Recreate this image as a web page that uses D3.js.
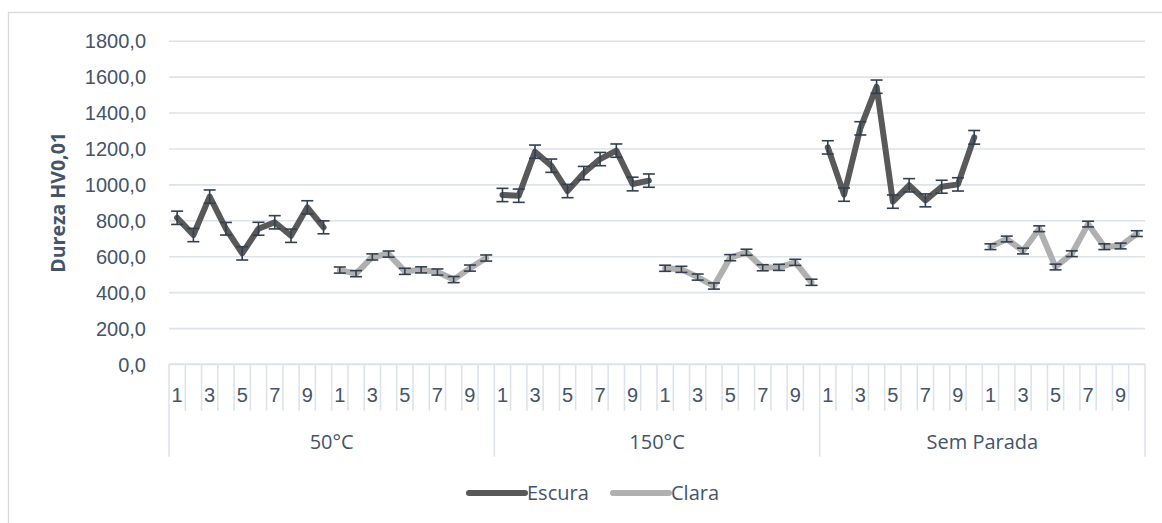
<!DOCTYPE html>
<html>
<head>
<meta charset="utf-8">
<script src="https://cdn.jsdelivr.net/npm/d3@7/dist/d3.min.js"></script>
<style>
  html, body { margin: 0; padding: 0; background: #fff; }
  svg { display: block; font-family: "Open Sans", "Noto Sans", sans-serif; }
</style>
</head>
<body>
<svg id="chart" width="1162" height="523"></svg>
<script>
// Sample groups and the ten measurement positions in each region
const groups = ["50°C", "150°C", "Sem Parada"];
const positions = ["1", "2", "3", "4", "5", "6", "7", "8", "9", "10"];
const seriesNames = ["Escura", "Clara"];

// Hardness (HV0,01) per group, dark region
const escura50 = [814, 718, 932, 753, 616, 753, 789, 714, 872, 761];
const escura150 = [941, 937, 1182, 1104, 963, 1063, 1141, 1188, 1002, 1021];
const escuraSP = [1206, 943, 1312, 1544, 904, 995, 911, 987, 1000, 1262];

// Hardness per group, light region
const clara50 = [523, 503, 596, 612, 516, 524, 512, 470, 534, 590];
const clara150 = [533, 527, 484, 434, 592, 622, 536, 538, 566, 455];
const claraSP = [653, 696, 629, 753, 540, 614, 779, 653, 657, 726];

// Standard deviations
const escuraErr50 = [37, 37, 37, 35, 37, 36, 37, 37, 37, 36];
const escuraErr150 = [37, 37, 37, 37, 37, 37, 37, 37, 38, 37];
const escuraErrSP = [37, 37, 37, 37, 37, 37, 36, 36, 37, 38];
const claraErr50 = [17, 17, 17, 17, 17, 17, 17, 17, 17, 17];
const claraErr150 = [17, 17, 17, 17, 17, 17, 17, 17, 17, 17];
const claraErrSP = [16, 16, 16, 16, 16, 16, 16, 16, 16, 16];

const yTicks = [0, 200, 400, 600, 800, 1000, 1200, 1400, 1600, 1800];
const yTitle = "Dureza HV0,01";

// Flatten into one category axis: each group holds 10 Escura then 10 Clara positions
const escuraByGroup = [escura50, escura150, escuraSP];
const claraByGroup = [clara50, clara150, claraSP];
const escuraErrByGroup = [escuraErr50, escuraErr150, escuraErrSP];
const claraErrByGroup = [claraErr50, claraErr150, claraErrSP];

const cats = [];
groups.forEach((g, gi) => {
  ["Escura", "Clara"].forEach((s, si) => {
    positions.forEach((p, pi) => {
      const vals = si === 0 ? escuraByGroup[gi] : claraByGroup[gi];
      const errs = si === 0 ? escuraErrByGroup[gi] : claraErrByGroup[gi];
      cats.push({ idx: cats.length, group: gi, series: s, label: p, pi, value: vals[pi], err: errs[pi] });
    });
  });
});

const svg = d3.select("#chart");
const W = 1162, H = 523;
const plot = { left: 169, right: 1145, top: 40.7, bottom: 364 };

const textColor = "#44546A";
const gridColor = "#DEE3EA";
const colors = { Escura: "#595959", Clara: "#B0B0B0" };
const errColor = "#323F51";

// Chart frame
svg.append("rect")
  .attr("x", 8.5).attr("y", 12.5)
  .attr("width", W + 20).attr("height", H + 20)
  .attr("fill", "#fff").attr("stroke", "#D9D9D9").attr("stroke-width", 1.3);

const x = d3.scaleBand().domain(cats.map(d => d.idx)).range([plot.left, plot.right]).padding(0);
const y = d3.scaleLinear().domain([0, 1800]).range([plot.bottom, plot.top]);

const ptBR = d3.formatLocale({ decimal: ",", thousands: "", grouping: [3], currency: ["R$", ""] });
const fmt = ptBR.format(".1f");

// Y axis with gridlines
const yAxis = svg.append("g")
  .attr("transform", `translate(${plot.left},0)`)
  .call(d3.axisLeft(y).tickValues(yTicks).tickFormat(fmt)
    .tickSizeInner(-(plot.right - plot.left)).tickSizeOuter(0).tickPadding(23));
yAxis.select(".domain").remove();
yAxis.selectAll(".tick line").attr("stroke", gridColor).attr("stroke-width", 1.6);
yAxis.selectAll(".tick text")
  .attr("fill", textColor).attr("font-size", 20).attr("dy", "0.36em");

// Y title
svg.append("text")
  .attr("transform", `translate(58,${(plot.top + plot.bottom) / 2}) rotate(-90)`)
  .attr("text-anchor", "middle").attr("dy", "0.36em")
  .attr("fill", textColor).attr("font-size", 19.5).attr("font-weight", "bold")
  .text(yTitle);

// X axis: category boundary ticks, position labels, group separators
const xg = svg.append("g").attr("transform", `translate(0,${plot.bottom})`);
xg.append("line")
  .attr("x1", plot.left).attr("x2", plot.right)
  .attr("stroke", gridColor).attr("stroke-width", 1.6);

const boundaries = d3.range(cats.length + 1);
xg.selectAll("line.cat-tick")
  .data(boundaries)
  .join("line")
  .attr("class", "cat-tick")
  .attr("x1", i => x(0) + i * x.step()).attr("x2", i => x(0) + i * x.step())
  .attr("y1", 0)
  .attr("y2", i => (i % 20 === 0 ? 92.7 : 46.7))
  .attr("stroke", gridColor).attr("stroke-width", 1.6);

const labelAxis = xg.append("g")
  .call(d3.axisBottom(x)
    .tickValues(cats.filter(d => d.pi % 2 === 0).map(d => d.idx))
    .tickFormat(i => cats[i].label).tickSize(0));
labelAxis.select(".domain").remove();
labelAxis.selectAll(".tick text")
  .attr("y", 31).attr("dy", "0.36em")
  .attr("fill", textColor).attr("font-size", 20);

xg.selectAll("text.group")
  .data(groups)
  .join("text")
  .attr("class", "group")
  .attr("x", (g, gi) => x(gi * 20) + x.step() * 10)
  .attr("y", 77.7).attr("dy", "0.36em")
  .attr("text-anchor", "middle")
  .attr("fill", textColor).attr("font-size", 20)
  .text(g => g);

// Series lines
const line = d3.line()
  .defined(d => d.value != null)
  .x(d => x(d.idx) + x.bandwidth() / 2)
  .y(d => y(d.value));

seriesNames.forEach(s => {
  const pts = cats.map(d => (d.series === s ? d : { ...d, value: null }));
  svg.append("path")
    .datum(pts)
    .attr("fill", "none")
    .attr("stroke", colors[s])
    .attr("stroke-width", 6)
    .attr("stroke-linejoin", "round")
    .attr("stroke-linecap", "round")
    .attr("d", line);
});

// Error bars
const capHalf = 6;
const eb = svg.append("g").attr("stroke", errColor).attr("stroke-width", 1.6);
cats.forEach(d => {
  const cx = x(d.idx) + x.bandwidth() / 2;
  eb.append("line").attr("x1", cx).attr("x2", cx).attr("y1", y(d.value - d.err)).attr("y2", y(d.value + d.err));
  eb.append("line").attr("x1", cx - capHalf).attr("x2", cx + capHalf).attr("y1", y(d.value + d.err)).attr("y2", y(d.value + d.err));
  eb.append("line").attr("x1", cx - capHalf).attr("x2", cx + capHalf).attr("y1", y(d.value - d.err)).attr("y2", y(d.value - d.err));
});

// Legend
const legend = svg.append("g").attr("transform", "translate(0,493)");
const legendX = [469, 613];
seriesNames.forEach((s, i) => {
  const g = legend.append("g").attr("transform", `translate(${legendX[i]},0)`);
  g.append("line").attr("x1", 0).attr("x2", 56)
    .attr("stroke", colors[s]).attr("stroke-width", 6).attr("stroke-linecap", "round");
  g.append("text").attr("x", 58).attr("dy", "0.36em")
    .attr("fill", textColor).attr("font-size", 20).text(s);
});
</script>
</body>
</html>
